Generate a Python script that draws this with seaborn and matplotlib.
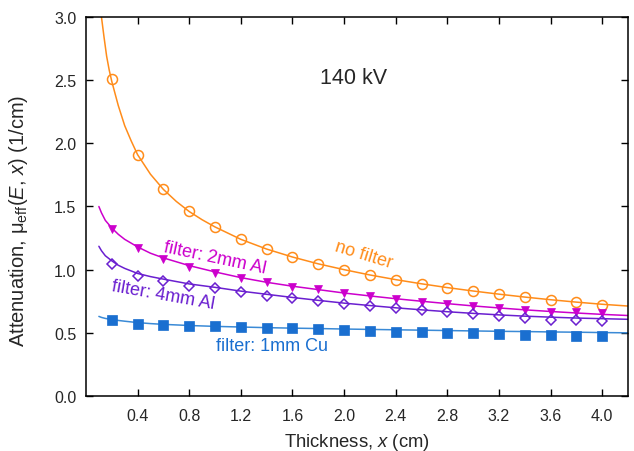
import numpy as np
import pandas as pd
import matplotlib
matplotlib.use('Agg')
import matplotlib.pyplot as plt
import seaborn as sns

# measured points (thickness in cm)
x_pts = [0.2, 0.4, 0.6, 0.8, 1.0, 1.2, 1.4, 1.6, 1.8, 2.0,
         2.2, 2.4, 2.6, 2.8, 3.0, 3.2, 3.4, 3.6, 3.8, 4.0]
no_filter = [2.51, 1.91, 1.637, 1.462, 1.339, 1.239, 1.164, 1.098, 1.045, 1.0,
             0.958, 0.92, 0.888, 0.857, 0.83, 0.804, 0.78, 0.762, 0.741, 0.722]
al2mm = [1.322, 1.169, 1.085, 1.024, 0.974, 0.932, 0.90, 0.863, 0.846, 0.812,
         0.792, 0.771, 0.747, 0.729, 0.712, 0.696, 0.683, 0.668, 0.661, 0.656]
al4mm = [1.045, 0.953, 0.913, 0.873, 0.853, 0.821, 0.794, 0.776, 0.755, 0.73,
         0.714, 0.695, 0.679, 0.664, 0.652, 0.634, 0.621, 0.605, 0.598, 0.592]
cu1mm = [0.60, 0.567, 0.562, 0.554, 0.552, 0.544, 0.541, 0.536, 0.527, 0.524,
         0.516, 0.508, 0.505, 0.497, 0.497, 0.491, 0.485, 0.481, 0.478, 0.473]

# fitted curves
xc_nf = [0.12, 0.14, 0.16, 0.18, 0.2, 0.25, 0.3, 0.35, 0.4, 0.5, 0.6, 0.7, 0.8, 0.9,
         1.0, 1.2, 1.4, 1.6, 1.8, 2.0, 2.2, 2.4, 2.6, 2.8, 3.0, 3.2, 3.4, 3.6, 3.8, 4.0, 4.2]
yc_nf = [3.0, 2.84, 2.69, 2.58, 2.49, 2.3, 2.14, 2.02, 1.91, 1.755, 1.635, 1.54, 1.46, 1.395,
         1.338, 1.24, 1.163, 1.1, 1.046, 1.0, 0.958, 0.921, 0.888, 0.858, 0.831, 0.806,
         0.783, 0.762, 0.743, 0.726, 0.712]
xc_al = [0.1, 0.12, 0.15, 0.2, 0.25, 0.3, 0.4, 0.5, 0.6, 0.8, 1.0, 1.2, 1.4, 1.6,
         1.8, 2.0, 2.2, 2.4, 2.6, 2.8, 3.0, 3.2, 3.4, 3.6, 3.8, 4.0, 4.2]
yc_al2 = [1.50, 1.45, 1.39, 1.33, 1.28, 1.24, 1.18, 1.13, 1.093, 1.032, 0.982, 0.937, 0.90, 0.869,
          0.842, 0.815, 0.792, 0.77, 0.75, 0.731, 0.713, 0.697, 0.682, 0.669, 0.657, 0.646, 0.637]
yc_al4 = [1.185, 1.15, 1.11, 1.07, 1.035, 1.01, 0.97, 0.945, 0.925, 0.887, 0.86, 0.83, 0.805, 0.78,
          0.757, 0.735, 0.716, 0.698, 0.682, 0.667, 0.654, 0.642, 0.632, 0.624, 0.617, 0.612, 0.607]
yc_cu = [0.63, 0.622, 0.614, 0.605, 0.598, 0.592, 0.581, 0.573, 0.567, 0.558, 0.551, 0.546, 0.541, 0.537,
         0.534, 0.53, 0.527, 0.524, 0.521, 0.518, 0.515, 0.512, 0.51, 0.507, 0.505, 0.502, 0.5]

c_nf = '#ff8c1a'
c_al2 = '#cc00cc'
c_al4 = '#6a1fd0'
c_cu = '#1a6fd0'
c_cu_line = '#3a8ad6'

sns.set_style('ticks')
plt.rcParams['font.family'] = ['Liberation Sans', 'DejaVu Sans']
plt.rcParams['mathtext.fontset'] = 'custom'
plt.rcParams['mathtext.rm'] = 'Liberation Sans'
plt.rcParams['mathtext.it'] = 'Liberation Sans:italic'

fig = plt.figure(figsize=(6.34, 4.52), dpi=100)
ax = fig.add_axes([0.1356, 0.1217, 0.855, 0.8385])

sns.lineplot(x=xc_nf, y=yc_nf, color=c_nf, lw=1.1, ax=ax)
sns.lineplot(x=xc_al, y=yc_al2, color=c_al2, lw=1.1, ax=ax)
sns.lineplot(x=xc_al, y=yc_al4, color=c_al4, lw=1.1, ax=ax)
sns.lineplot(x=xc_al, y=yc_cu, color=c_cu_line, lw=1.1, ax=ax)

sns.lineplot(x=x_pts, y=no_filter, marker='o', linestyle='', ms=7.2, mfc='none',
             markeredgecolor=c_nf, markeredgewidth=1.1, color=c_nf, ax=ax)
sns.lineplot(x=x_pts, y=al2mm, marker='v', linestyle='', ms=5.8, mfc=c_al2,
             markeredgecolor=c_al2, markeredgewidth=0.5, color=c_al2, ax=ax)
sns.lineplot(x=x_pts, y=al4mm, marker='D', linestyle='', ms=5.2, mfc='none',
             markeredgecolor=c_al4, markeredgewidth=1.1, color=c_al4, ax=ax)
sns.lineplot(x=x_pts, y=cu1mm, marker='s', linestyle='', ms=6.5, mfc=c_cu,
             markeredgecolor=c_cu, markeredgewidth=0.5, color='#0066cc', ax=ax)

ax.set_xlim(0, 4.2)
ax.set_ylim(0, 3.0)
ax.set_xticks([0.4, 0.8, 1.2, 1.6, 2.0, 2.4, 2.8, 3.2, 3.6, 4.0])
ax.set_yticks([0.0, 0.5, 1.0, 1.5, 2.0, 2.5, 3.0])
ax.xaxis.set_major_formatter(plt.FormatStrFormatter('%.1f'))
ax.yaxis.set_major_formatter(plt.FormatStrFormatter('%.1f'))
ax.tick_params(direction='in', top=True, right=True, length=5, width=1,
               labelsize=11.5, color='black')
ax.tick_params(axis='x', pad=9)
ax.tick_params(axis='y', pad=7)
for s in ax.spines.values():
    s.set_linewidth(1.1)
    s.set_color('black')

ax.set_xlabel('Thickness, $\\mathit{x}$ (cm)', fontsize=13.3)
ax.xaxis.set_label_coords(0.5, -0.093)
ax.set_ylabel('Attenuation, μ$_\\mathrm{eff}$($\\mathit{E}$, $\\mathit{x}$) (1/cm)',
              fontsize=14.5)
ax.yaxis.set_label_coords(-0.103, 0.464)

ax.text(2.07, 2.52, '140 kV', fontsize=15.5, ha='center', va='center')
ax.text(2.15, 1.12, 'no filter', color=c_nf, fontsize=13, rotation=-17,
        ha='center', va='center')
ax.text(1.0, 1.1, 'filter: 2mm Al', color=c_al2, fontsize=13, rotation=-12,
        ha='center', va='center')
ax.text(0.6, 0.8, 'filter: 4mm Al', color=c_al4, fontsize=13, rotation=-10,
        ha='center', va='center')
ax.text(1.44, 0.4, 'filter: 1mm Cu', color=c_cu, fontsize=13,
        ha='center', va='center')

fig.savefig('out.png', dpi=100)
plt.close(fig)
